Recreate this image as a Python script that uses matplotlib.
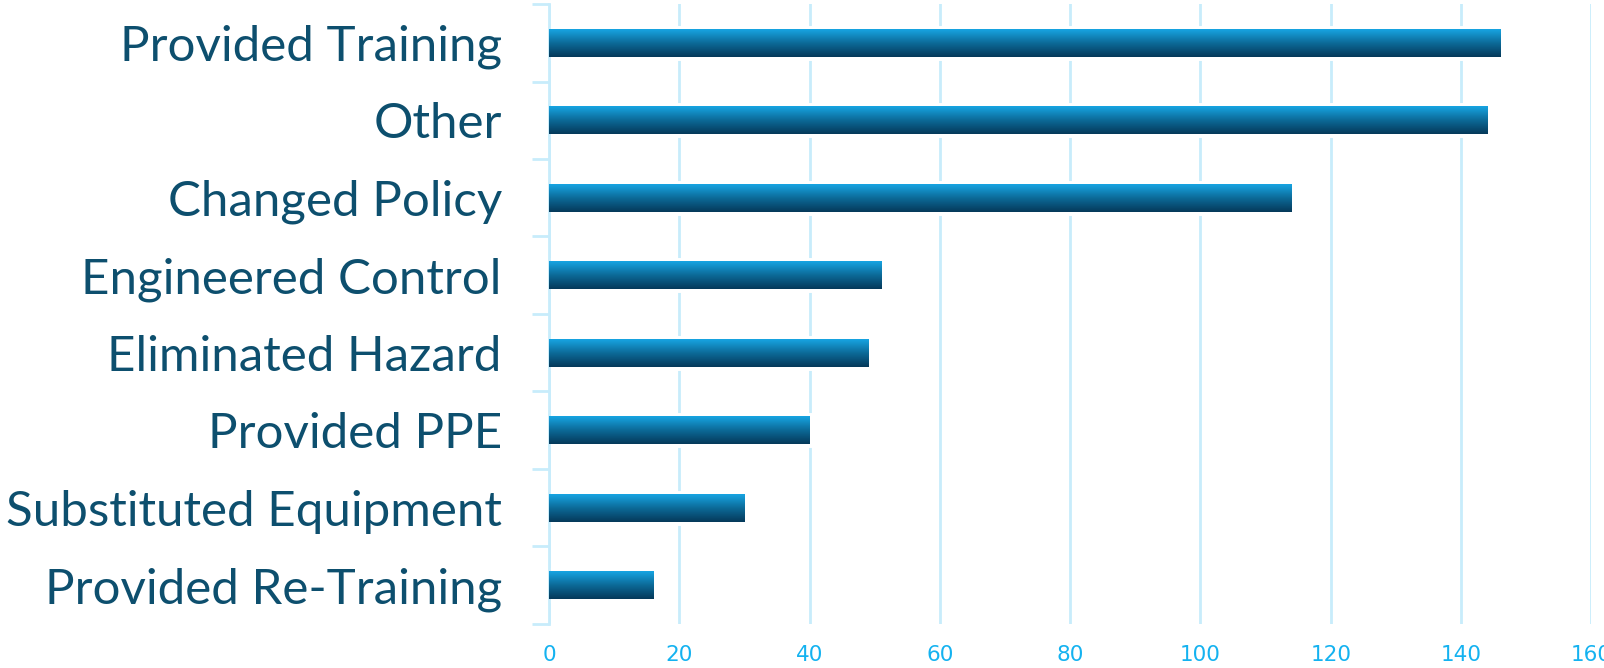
import numpy as np
import matplotlib
matplotlib.use("Agg")
from matplotlib import pyplot as plt
from matplotlib.colors import LinearSegmentedColormap

categories = ["Provided Training", "Other", "Changed Policy", "Engineered Control",
              "Eliminated Hazard", "Provided PPE", "Substituted Equipment",
              "Provided Re-Training"]
counts = [146, 144, 114, 51, 49, 40, 30, 16]
xticks = [0, 20, 40, 60, 80, 100, 120, 140, 160]

labelColor = "#0D4F6E"
tickColor = "#14B2F0"
gridColor = "#C8ECFB"

fig = plt.figure(figsize=(16.04, 6.68), dpi=100)
ax = fig.add_axes([0.3423, 0.0659, 0.9921 - 0.3423, 0.994 - 0.0659])

barH = 0.36
ypos = np.arange(len(categories))

# white halo behind bars (covers gridlines like the original)
ax.barh(ypos, counts, height=barH, color="white", edgecolor="white", linewidth=5, zorder=2)

grad = LinearSegmentedColormap.from_list("bargrad", ["#17A4E2", "#0C6A98", "#05395A"])
g = np.linspace(0, 1, 64).reshape(-1, 1)
for y, v in zip(ypos, counts):
    ax.imshow(g, cmap=grad, aspect="auto", extent=[0, v, y + barH / 2, y - barH / 2],
              zorder=3, interpolation="bicubic")

ax.set_xlim(0, 160)
ax.set_ylim(len(categories) - 0.5, -0.5)

ax.set_xticks(xticks)
ax.set_xticklabels([str(t) for t in xticks])
ax.tick_params(axis="x", length=0, pad=15, labelsize=15.5, labelcolor=tickColor)
ax.xaxis.grid(True, color=gridColor, linewidth=2, zorder=0)
ax.set_axisbelow(True)

ax.set_yticks(ypos)
ax.set_yticklabels(categories, fontsize=35.5, color=labelColor, family=["Lato", "DejaVu Sans"])
ax.tick_params(axis="y", which="major", length=0, pad=34)
ax.set_yticks(np.arange(-0.5, len(categories), 1), minor=True)
ax.tick_params(axis="y", which="minor", length=12, width=2, color=gridColor)

for s in ["top", "right", "bottom"]:
    ax.spines[s].set_visible(False)
ax.spines["left"].set_color(gridColor)
ax.spines["left"].set_linewidth(2)

fig.savefig("out.png", dpi=100)
